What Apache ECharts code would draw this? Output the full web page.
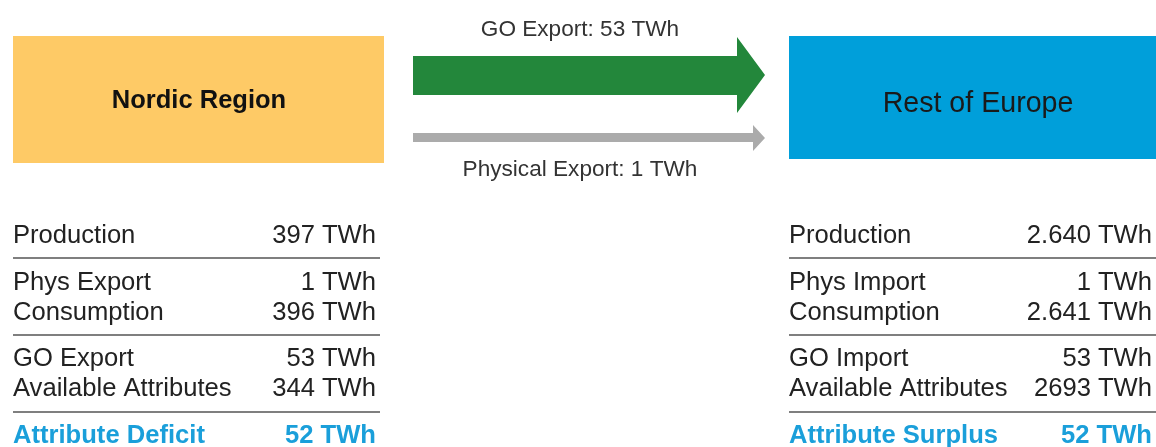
<!DOCTYPE html>
<html><head><meta charset="utf-8">
<script src="https://cdn.jsdelivr.net/npm/echarts@6/dist/echarts.min.js"></script>
<style>html,body{margin:0;padding:0;background:#fff}#c{width:1156px;height:447px}</style>
</head><body><div id="c"></div>
<script>
var regions = ['Nordic Region', 'Rest of Europe'];
var flowLabels = ['GO Export: 53 TWh', 'Physical Export: 1 TWh'];
var flowValues = [53, 1];
var nordicLabels = ['Production', 'Phys Export', 'Consumption', 'GO Export', 'Available Attributes', 'Attribute Deficit'];
var nordicValues = ['397', '1', '396', '53', '344', '52'];
var europeLabels = ['Production', 'Phys Import', 'Consumption', 'GO Import', 'Available Attributes', 'Attribute Surplus'];
var europeValues = ['2.640', '1', '2.641', '53', '2693', '52'];
var unit = 'TWh';

var FONT = '"Liberation Sans", Arial, sans-serif';
var rowY = [236, 283, 313, 359, 389, 436];
var sepY = [258, 335, 412];

function table(labels, values, x0, x1, lineX1) {
  var els = [];
  labels.forEach(function (l, i) {
    var last = i === labels.length - 1;
    var fill = last ? '#1A9FDA' : '#222';
    var font = (last ? 'bold ' : '') + '25.6px ' + FONT;
    els.push({type: 'text', x: x0, y: rowY[i], style: {text: l, font: font, fill: fill, align: 'left', verticalAlign: 'middle'}});
    els.push({type: 'text', x: x1, y: rowY[i], style: {text: values[i] + ' ' + unit, font: font, fill: fill, align: 'right', verticalAlign: 'middle'}});
  });
  sepY.forEach(function (y) {
    els.push({type: 'line', shape: {x1: x0, y1: y, x2: lineX1, y2: y}, style: {stroke: '#7f7f7f', lineWidth: 2}});
  });
  return els;
}

var g = [];
g.push({type: 'rect', shape: {x: 13, y: 36, width: 371, height: 127}, style: {fill: '#FECA66'}});
g.push({type: 'text', x: 199, y: 101, style: {text: regions[0], font: 'bold 25.5px ' + FONT, fill: '#111', align: 'center', verticalAlign: 'middle'}});
g.push({type: 'rect', shape: {x: 789, y: 36, width: 367, height: 123}, style: {fill: '#009FDA'}});
g.push({type: 'text', x: 978, y: 104, style: {text: regions[1], font: '28.6px ' + FONT, fill: '#1a1a1a', align: 'center', verticalAlign: 'middle'}});
// arrows
g.push({type: 'polygon', shape: {points: [[413, 56], [737, 56], [737, 37], [765, 75], [737, 113], [737, 95], [413, 95]]}, style: {fill: '#23873B'}});
g.push({type: 'polygon', shape: {points: [[413, 133], [753, 133], [753, 125], [765, 138], [753, 151], [753, 142], [413, 142]]}, style: {fill: '#ABABAB'}});
g.push({type: 'text', x: 580, y: 30, style: {text: flowLabels[0], font: '22.6px ' + FONT, fill: '#333', align: 'center', verticalAlign: 'middle'}});
g.push({type: 'text', x: 580, y: 170, style: {text: flowLabels[1], font: '22.6px ' + FONT, fill: '#333', align: 'center', verticalAlign: 'middle'}});

g = g.concat(table(nordicLabels, nordicValues, 13, 376, 380));
g = g.concat(table(europeLabels, europeValues, 789, 1152, 1156));

var chart = echarts.init(document.getElementById('c'), null, {renderer: 'canvas'});
chart.setOption({animation: false, graphic: {elements: g}});
</script></body></html>
